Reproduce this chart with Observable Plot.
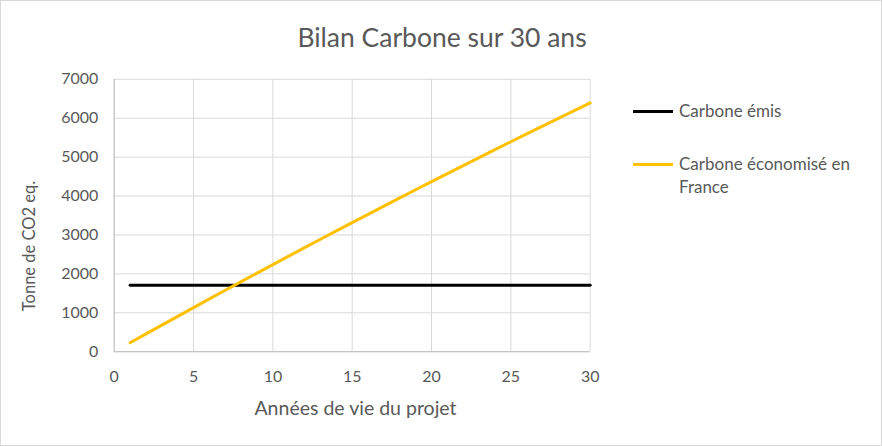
<!DOCTYPE html>
<html>
<head>
<meta charset="utf-8">
<script src="https://cdn.jsdelivr.net/npm/d3@7"></script>
<script src="https://cdn.jsdelivr.net/npm/@observablehq/plot@0.6"></script>
<style>
  html, body { margin: 0; padding: 0; background: #fff; }
  #wrap { position: relative; width: 880px; height: 444px; border: 1px solid #d9d9d9; overflow: hidden; font-family: Lato, "Open Sans", sans-serif; color: #595959; }
  #wrap svg { position: absolute; left: -1px; top: -1px; }
  .title { position: absolute; left: 0; width: 882px; top: 20px; text-align: center; font-size: 26.5px; color: #595959; }
  .leg { position: absolute; font-size: 17px; color: #595959; line-height: 23px; }
  .sw { position: absolute; height: 3px; width: 40px; }
  .xlab { position: absolute; left: 116px; width: 477px; top: 395px; text-align: center; font-size: 19.5px; }
  .ylab { position: absolute; left: 29px; top: 245px; width: 300px; margin-left: -151px; margin-top: -11px; text-align: center; font-size: 16.5px; transform: rotate(-90deg); line-height: 22px; }
</style>
</head>
<body>
<div id="wrap">
  <div class="title">Bilan Carbone sur 30 ans</div>
  <div class="sw" style="left:632px; top:109px; background:#000000;"></div>
  <div class="leg" style="left:678px; top:98px;">Carbone émis</div>
  <div class="sw" style="left:632px; top:162px; background:#FFC000;"></div>
  <div class="leg" style="left:678px; top:151px;">Carbone économisé en<br>France</div>
  <div class="xlab">Années de vie du projet</div>
  <div class="ylab">Tonne de CO2 eq.</div>
</div>
<script>
const years = [1,2,3,4,5,6,7,8,9,10,11,12,13,14,15,16,17,18,19,20,21,22,23,24,25,26,27,28,29,30];
const carboneEmis = [1710,1710,1710,1710,1710,1710,1710,1710,1710,1710,1710,1710,1710,1710,1710,1710,1710,1710,1710,1710,1710,1710,1710,1710,1710,1710,1710,1710,1710,1710];
const carboneEconomise = [229,457,684,909,1134,1357,1579,1800,2020,2239,2457,2674,2890,3104,3318,3530,3742,3952,4161,4369,4576,4782,4988,5192,5395,5597,5798,5998,6197,6395];
const seriesNames = ["Carbone émis", "Carbone économisé en France"];
const seriesColors = ["#000000", "#FFC000"];
const xTicks = [0,5,10,15,20,25,30];
const yTicks = [0,1000,2000,3000,4000,5000,6000,7000];

const rows = [];
years.forEach((y, i) => {
  rows.push({year: y, value: carboneEmis[i], series: seriesNames[0]});
  rows.push({year: y, value: carboneEconomise[i], series: seriesNames[1]});
});

const chart = Plot.plot({
  width: 882,
  height: 446,
  marginLeft: 114,
  marginRight: 291,
  marginTop: 79,
  marginBottom: 94,
  style: {fontFamily: "Lato, 'Open Sans', sans-serif", fontSize: "16px", color: "#595959", background: "transparent"},
  x: {domain: [0, 30], ticks: xTicks, label: null},
  y: {domain: [0, 7000], ticks: yTicks, label: null},
  color: {domain: seriesNames, range: seriesColors},
  marks: [
    Plot.gridX(xTicks, {stroke: "#d9d9d9", strokeOpacity: 1, strokeWidth: 1}),
    Plot.gridY(yTicks, {stroke: "#d9d9d9", strokeOpacity: 1, strokeWidth: 1}),
    Plot.ruleY([0], {stroke: "#bfbfbf", strokeWidth: 1}),
    Plot.ruleX([0], {stroke: "#bfbfbf", strokeWidth: 1}),
    Plot.axisX(xTicks, {tickSize: 0, tickPadding: 19, fill: "#595959", fontSize: 16, label: null, tickFormat: d => String(d)}),
    Plot.axisY(yTicks, {tickSize: 0, tickPadding: 16, fill: "#595959", fontSize: 16, label: null, tickFormat: d => String(d)}),
    Plot.line(rows, {x: "year", y: "value", z: "series", stroke: "series", strokeWidth: 3})
  ]
});
document.getElementById("wrap").appendChild(chart);
</script>
</body>
</html>
